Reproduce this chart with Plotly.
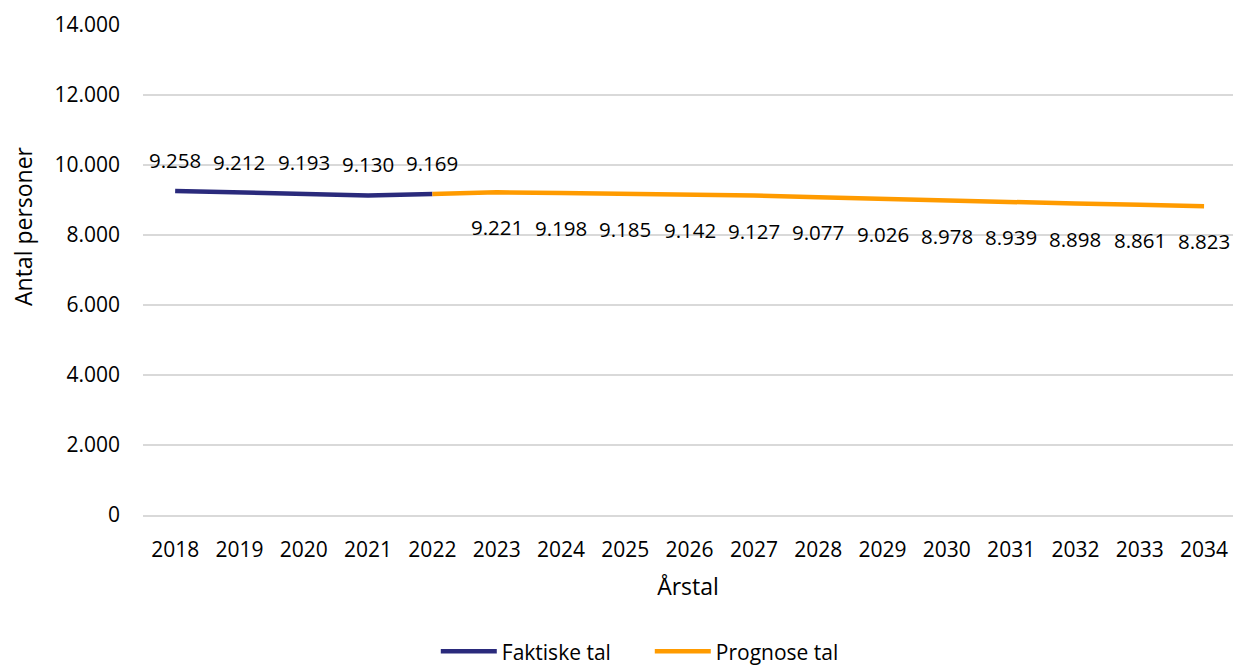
import plotly.graph_objects as go

years = list(range(2018, 2035))
actual_years = [2018, 2019, 2020, 2021, 2022]
actual_vals = [9258, 9212, 9193, 9130, 9169]
prog_years = [2022, 2023, 2024, 2025, 2026, 2027, 2028, 2029, 2030,
              2031, 2032, 2033, 2034]
prog_vals = [9169, 9221, 9198, 9185, 9142, 9127, 9077, 9026, 8978, 8939, 8898, 8861, 8823]
y_ticks = [0, 2000, 4000, 6000, 8000, 10000, 12000, 14000]

FONT = "Open Sans"
BLUE = "#2A2A7C"
ORANGE = "#FF9B00"

fig = go.Figure()
fig.add_trace(go.Scatter(x=actual_years, y=actual_vals, mode="lines", name="Faktiske tal",
                         line=dict(color=BLUE, width=4.5)))
fig.add_trace(go.Scatter(x=prog_years, y=prog_vals, mode="lines", name="Prognose tal",
                         line=dict(color=ORANGE, width=4.5)))

def fmt(v):
    return f"{v:,}".replace(",", ".")

for x, y in zip(actual_years, actual_vals):
    fig.add_annotation(x=x, y=y, text=fmt(y), showarrow=False, yshift=31,
                       font=dict(family=FONT, size=20.5, color="#000"))
for x, y in zip(prog_years[1:], prog_vals[1:]):
    fig.add_annotation(x=x, y=y, text=fmt(y), showarrow=False, yshift=-35,
                       font=dict(family=FONT, size=20.5, color="#000"))

# y axis title placed as annotation (offset upward as in reference)
fig.add_annotation(xref="paper", yref="paper", x=-0.110, y=0.59, text="Antal personer",
                   textangle=-90, showarrow=False, xanchor="center", yanchor="middle",
                   font=dict(family=FONT, size=23, color="#000"))

fig.update_layout(
    width=1233, height=665,
    margin=dict(l=143, r=0, t=25, b=150, autoexpand=False),
    plot_bgcolor="white", paper_bgcolor="white",
    separators=",.",
    font=dict(family=FONT, size=21, color="#000"),
    showlegend=True,
    legend=dict(orientation="h", xref="container", x=0.527, xanchor="center", yref="container",
                y=0.02, yanchor="middle", entrywidth=143, entrywidthmode="pixels",
                font=dict(family=FONT, size=21), itemwidth=56),
    xaxis=dict(range=[2017.5, 2034.45], tickvals=years, tickformat="d",
               showgrid=False, showline=True, linecolor="#d9d9d9", linewidth=1.5,
               ticks="", ticklabelstandoff=15, automargin=False,
               title=dict(text="Årstal", font=dict(family=FONT, size=23), standoff=17),
               tickfont=dict(family=FONT, size=21)),
    yaxis=dict(range=[0, 14000], tickvals=y_ticks,
               tickformat=",d", showgrid=True, gridcolor="#d9d9d9", gridwidth=1.5,
               zeroline=False, ticks="", ticklabelstandoff=22, automargin=False,
               tickfont=dict(family=FONT, size=21)),
)

fig.write_html("out.html", config={"displayModeBar": False},
               post_script="document.body.style.margin='0';document.body.style.overflow='hidden';")
